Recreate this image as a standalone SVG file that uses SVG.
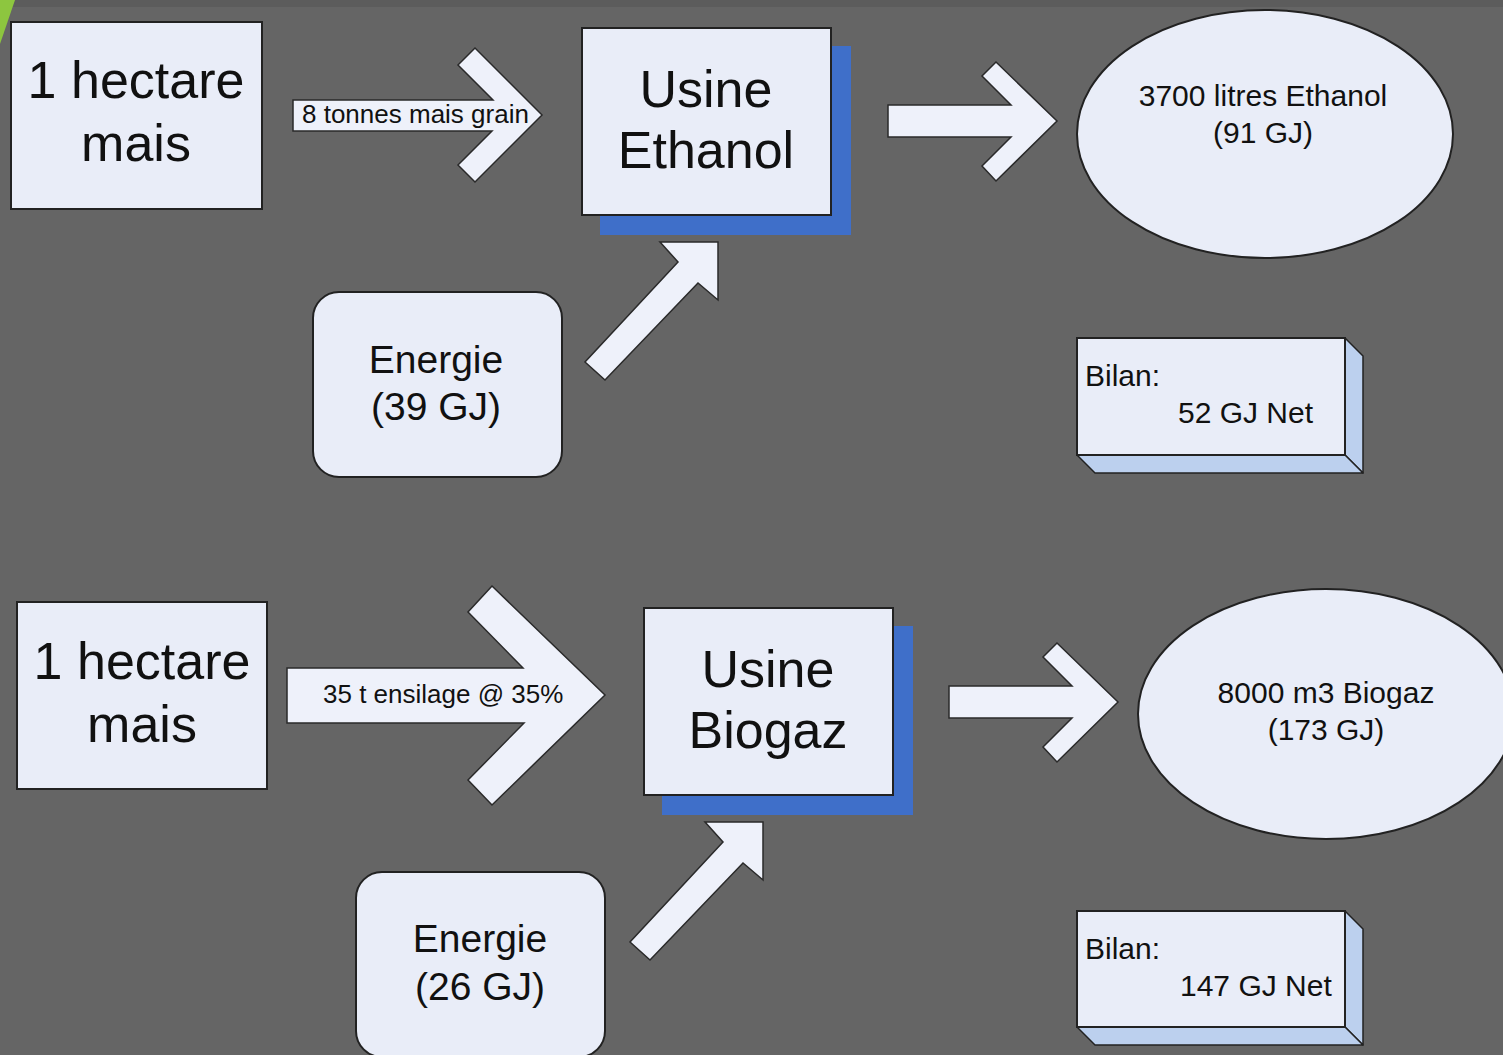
<svg xmlns="http://www.w3.org/2000/svg" width="1503" height="1055" viewBox="0 0 1503 1055">
<style>
.bg{fill:#656565}
.box{fill:#E9EDF8;stroke:#222;stroke-width:2}
.arr{fill:#EEF1FA;stroke:#2a2a2a;stroke-width:1.5;stroke-linejoin:miter}
.shadow{fill:#3F6FC9}
.side{fill:#BCD0EE;stroke:#222;stroke-width:1.5;stroke-linejoin:round}
text{font-family:"Liberation Sans",Arial,sans-serif;fill:#111}
.big{font-size:52px;text-anchor:middle}
.mid{font-size:39px;text-anchor:middle}
.ell{font-size:30px;text-anchor:middle}
.lbl{font-size:26px}
.bil{font-size:30px}
</style>
<rect class="bg" x="0" y="0" width="1503" height="1055"/>
<rect x="0" y="0" width="1503" height="7" fill="#5c5c5c"/>
<polygon points="0,0 15,0 0,44" fill="#8DC63F"/>

<g id="connectors">
  <polygon id="arrow-grain" class="arr" points="293,100 493,100 458,65 475,48 542,115 475,182 458,165 492,131 293,131"/>
  <polygon id="arrow-ethanol-out" class="arr" points="888,105 1011,105 982,76 996,62 1057,121 996,181 982,166 1011,137 888,137"/>
  <polygon id="arrow-energie1" class="arr" points="718,242 718,300 698,283 605,380 585,362 678,262 660,242"/>
  <polygon id="arrow-ensilage" class="arr" points="287,668 523,668 468,612 492,586 605,695 492,805 468,780 524,723 287,723"/>
  <polygon id="arrow-biogaz-out" class="arr" points="949,686 1072,686 1043,657 1057,643 1118,702 1057,762 1043,747 1072,718 949,718"/>
  <polygon id="arrow-energie2" class="arr" points="763,822 763,880 743,863 650,960 630,942 723,842 705,822"/>
  <text class="lbl" x="302" y="123">8 tonnes mais grain</text>
  <text class="lbl" x="323" y="703">35 t ensilage @ 35%</text>
</g>

<g id="hectare1">
  <rect class="box" x="11" y="22" width="251" height="187"/>
  <text class="big" x="136" y="98">1 hectare</text>
  <text class="big" x="136" y="161">mais</text>
</g>

<g id="usine-ethanol">
  <rect class="shadow" x="600" y="46" width="251" height="189"/>
  <rect class="box" x="582" y="28" width="249" height="187"/>
  <text class="big" x="706" y="107">Usine</text>
  <text class="big" x="706" y="168">Ethanol</text>
</g>

<g id="ethanol-out">
  <ellipse class="box" cx="1265" cy="134" rx="188" ry="124"/>
  <text class="ell" x="1263" y="106">3700 litres Ethanol</text>
  <text class="ell" x="1263" y="143">(91 GJ)</text>
</g>

<g id="energie1">
  <rect class="box" x="313" y="292" width="249" height="185" rx="26"/>
  <text class="mid" x="436" y="373">Energie</text>
  <text class="mid" x="436" y="420">(39 GJ)</text>
</g>

<g id="bilan1">
  <polygon class="side" points="1345,338 1363,356 1363,473 1345,455"/>
  <polygon class="side" points="1077,455 1345,455 1363,473 1095,473"/>
  <rect class="box" x="1077" y="338" width="268" height="117" stroke-width="1.5"/>
  <text class="bil" x="1085" y="386">Bilan:</text>
  <text class="bil" x="1178" y="423">52 GJ Net</text>
</g>

<g id="hectare2">
  <rect class="box" x="17" y="602" width="250" height="187"/>
  <text class="big" x="142" y="679">1 hectare</text>
  <text class="big" x="142" y="742">mais</text>
</g>

<g id="usine-biogaz">
  <rect class="shadow" x="662" y="626" width="251" height="189"/>
  <rect class="box" x="644" y="608" width="249" height="187"/>
  <text class="big" x="768" y="687">Usine</text>
  <text class="big" x="768" y="748">Biogaz</text>
</g>

<g id="biogaz-out">
  <ellipse class="box" cx="1326" cy="714" rx="188" ry="125"/>
  <text class="ell" x="1326" y="703">8000 m3 Biogaz</text>
  <text class="ell" x="1326" y="740">(173 GJ)</text>
</g>

<g id="energie2">
  <rect class="box" x="356" y="872" width="249" height="185" rx="26"/>
  <text class="mid" x="480" y="952">Energie</text>
  <text class="mid" x="480" y="1000">(26 GJ)</text>
</g>

<g id="bilan2">
  <polygon class="side" points="1345,911 1363,929 1363,1045 1345,1027"/>
  <polygon class="side" points="1077,1027 1345,1027 1363,1045 1095,1045"/>
  <rect class="box" x="1077" y="911" width="268" height="116" stroke-width="1.5"/>
  <text class="bil" x="1085" y="959">Bilan:</text>
  <text class="bil" x="1180" y="996">147 GJ Net</text>
</g>
</svg>
